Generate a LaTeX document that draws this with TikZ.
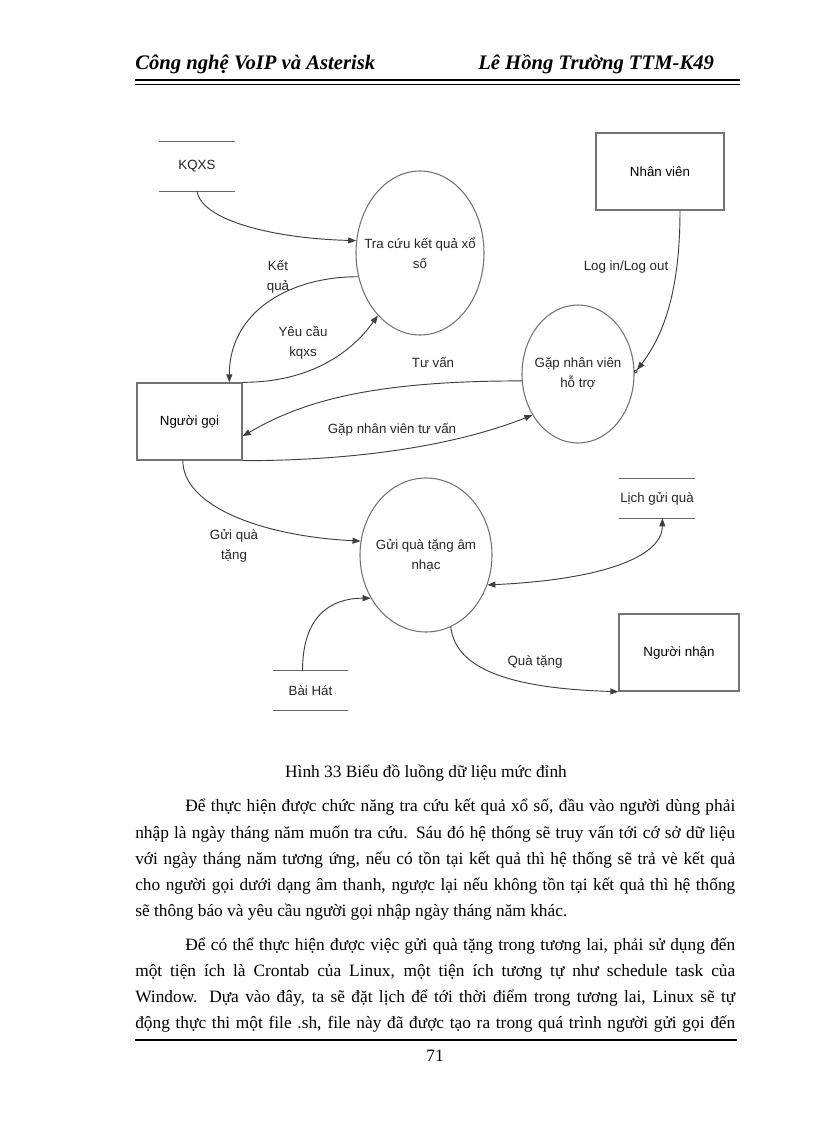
\documentclass[tikz,border=0pt]{standalone}
\usepackage{fontspec}
\setmainfont{Liberation Serif}
\newfontfamily\diafont{Liberation Sans}
\usetikzlibrary{arrows.meta,shapes.geometric}

\begin{document}
\begin{tikzpicture}[
    x=0.75pt, y=-0.75pt,
    >={Triangle[length=6pt,width=4.5pt]},
    line/.style    = {draw=black!75, line width=0.7pt},
    entity/.style  = {draw=black!55, line width=1pt, inner sep=0pt,
                      font=\diafont\fontsize{10}{15}\selectfont},
    process/.style = {ellipse, draw=black!55, line width=0.8pt, inner sep=0pt},
    ptext/.style   = {font=\diafont\fontsize{10}{15}\selectfont, align=center, text=black!85},
    store/.style   = {inner sep=0pt, font=\diafont\fontsize{10}{15}\selectfont, text=black!85},
    lbl/.style     = {font=\diafont\fontsize{10}{15}\selectfont, align=center, text=black!85},
    head/.style    = {font=\fontsize{15.5}{18}\selectfont\bfseries\itshape, inner sep=0pt, anchor=base west},
    body/.style    = {font=\fontsize{13}{19.5}\selectfont, inner sep=0pt, anchor=base west}
]

\fill[white] (0,0) rectangle (816,1123);
\useasboundingbox (0,0) rectangle (816,1123);

% Header
\node[head] (htitle) at (135,70) {Công nghệ VoIP và Asterisk};
\node[head] (hauthor) at (478,70) {Lê Hồng Trường TTM-K49};
\draw[line width=1.5pt] (135,80) -- (740,80);
\draw[line width=0.6pt] (135,84) -- (740,84);

% Processes
\node[process, minimum width=96pt, minimum height=123pt,
      label={[ptext]center:Tra cứu kết quả xổ\\số}] (tracuu) at (420,253) {};
\node[process, minimum width=84pt, minimum height=103.5pt,
      label={[ptext]center:Gặp nhân viên\\hỗ trợ}] (gapnv) at (578,374) {};
\node[process, minimum width=99pt, minimum height=115.5pt,
      label={[ptext]center:Gửi quà tặng âm\\nhạc}] (guiqua) at (426,555) {};

% External entities
\node[entity, minimum width=78.75pt, minimum height=57.75pt] (nguoigoi) at (189.5,421.5) {Người gọi};
\node[entity, minimum width=96pt, minimum height=57.75pt] (nhanvien) at (660,171.5) {Nhân viên};
\node[entity, minimum width=90pt, minimum height=57.75pt] (nguoinhan) at (679,652.5) {Người nhận};

% Data stores
\node[store, minimum width=57pt, minimum height=36.75pt] (kqxs) at (197,166.5) {KQXS};
\node[store, minimum width=57pt, minimum height=29.25pt] (lich) at (657,498.5) {Lịch gửi quà};
\node[store, minimum width=56pt, minimum height=29.25pt] (baihat) at (310.5,690.5) {Bài Hát};
\foreach \s in {kqxs, lich, baihat}
    \draw[black!60, line width=0.9pt] (\s.north west) -- (\s.north east)
                                      (\s.south west) -- (\s.south east);

% Flows
\draw[->, line] (kqxs.south) .. controls +(5,30) and +(-80,-2) .. (tracuu.169);
\draw[->, line] (tracuu.201) .. controls +(-70,0) and +(0,-70) .. ([xshift=-10pt]nguoigoi.north east);
\draw[->, line] (nguoigoi.north east) .. controls +(70,0) and +(-25,35) .. (tracuu.236);
\draw[->, line] (gapnv.187) .. controls +(-150,0) and +(60,-35) .. ([yshift=-11pt]nguoigoi.east);
\draw[->, line] (nguoigoi.south east) .. controls +(150,0) and +(-50,20) .. (gapnv.222);
\draw[-{Triangle[length=6pt,width=4.5pt] Circle[open,length=3pt]}, line]
    ([xshift=15pt]nhanvien.south) .. controls +(0,100) and +(20,-25) .. (gapnv.1);
\draw[->, line] ([xshift=-5pt]nguoigoi.south) .. controls +(0,45) and +(-100,-5) .. (guiqua.168);
\draw[<->, line] (guiqua.-26) .. controls +(110,-5) and +(0,40) .. ([xshift=4pt]lich.south);
\draw[->, line] ([xshift=-6pt]baihat.north) .. controls +(0,-55) and +(-40,0) .. (guiqua.218);
\draw[->, line] (guiqua.289) .. controls +(5,45) and +(-100,-3) .. (nguoinhan.south west);

% Flow labels
\node[lbl] (lketqua) at (278,277) {Kết\\quả};
\node[lbl] (lyeucau) at (303,343) {Yêu cầu\\kqxs};
\node[lbl] (ltuvan) at (433,362) {Tư vấn};
\node[lbl] (lgapnv) at (392,430) {Gặp nhân viên tư vấn};
\node[lbl] (llogin) at (626,267) {Log in/Log out};
\node[lbl] (lguiqua) at (234,546) {Gửi quà\\tặng};
\node[lbl] (lquatang) at (535,662) {Quà tặng};

% Caption and text
\node[body, anchor=base] (caption) at (426,777) {Hình 33 Biểu đồ luồng dữ liệu mức đỉnh};
\node[body] (p1first) at (185,811) {\makebox[412.5pt][s]{Để thực hiện được chức năng tra cứu kết quả xổ số, đầu vào người dùng phải}};
\foreach \y/\t in {838/{nhập là ngày tháng năm muốn tra cứu. Sáu đó hệ thống sẽ truy vấn tới cớ sở dữ liệu},
                   864/{với ngày tháng năm tương ứng, nếu có tồn tại kết quả thì hệ thống sẽ trả vè kết quả},
                   890/{cho người gọi dưới dạng âm thanh, ngược lại nếu không tồn tại kết quả thì hệ thống}}
    \node[body] (p1l\y) at (135,\y) {\makebox[450pt][s]{\t}};
\node[body] (p1last) at (135,916) {sẽ thông báo và yêu cầu người gọi nhập ngày tháng năm khác.};
\node[body] (p2first) at (185,950) {\makebox[412.5pt][s]{Để có thể thực hiện được việc gửi quà tặng trong tương lai, phải sử dụng đến}};
\foreach \y/\t in {976/{một tiện ích là Crontab  của Linux, một tiện ích tương tự như schedule task của},
                   1002/{Window.  Dựa vào đây, ta sẽ đặt lịch để tới thời điểm trong tương lai, Linux sẽ tự},
                   1028/{động thực thi một file .sh, file này đã được tạo ra trong quá trình người gửi gọi đến}}
    \node[body] (p2l\y) at (135,\y) {\makebox[450pt][s]{\t}};

% Footer
\draw[line width=1.8pt] (135,1040) -- (737,1040);
\node[body, anchor=base] (pagenum) at (435,1061) {71};

\end{tikzpicture}
\end{document}
